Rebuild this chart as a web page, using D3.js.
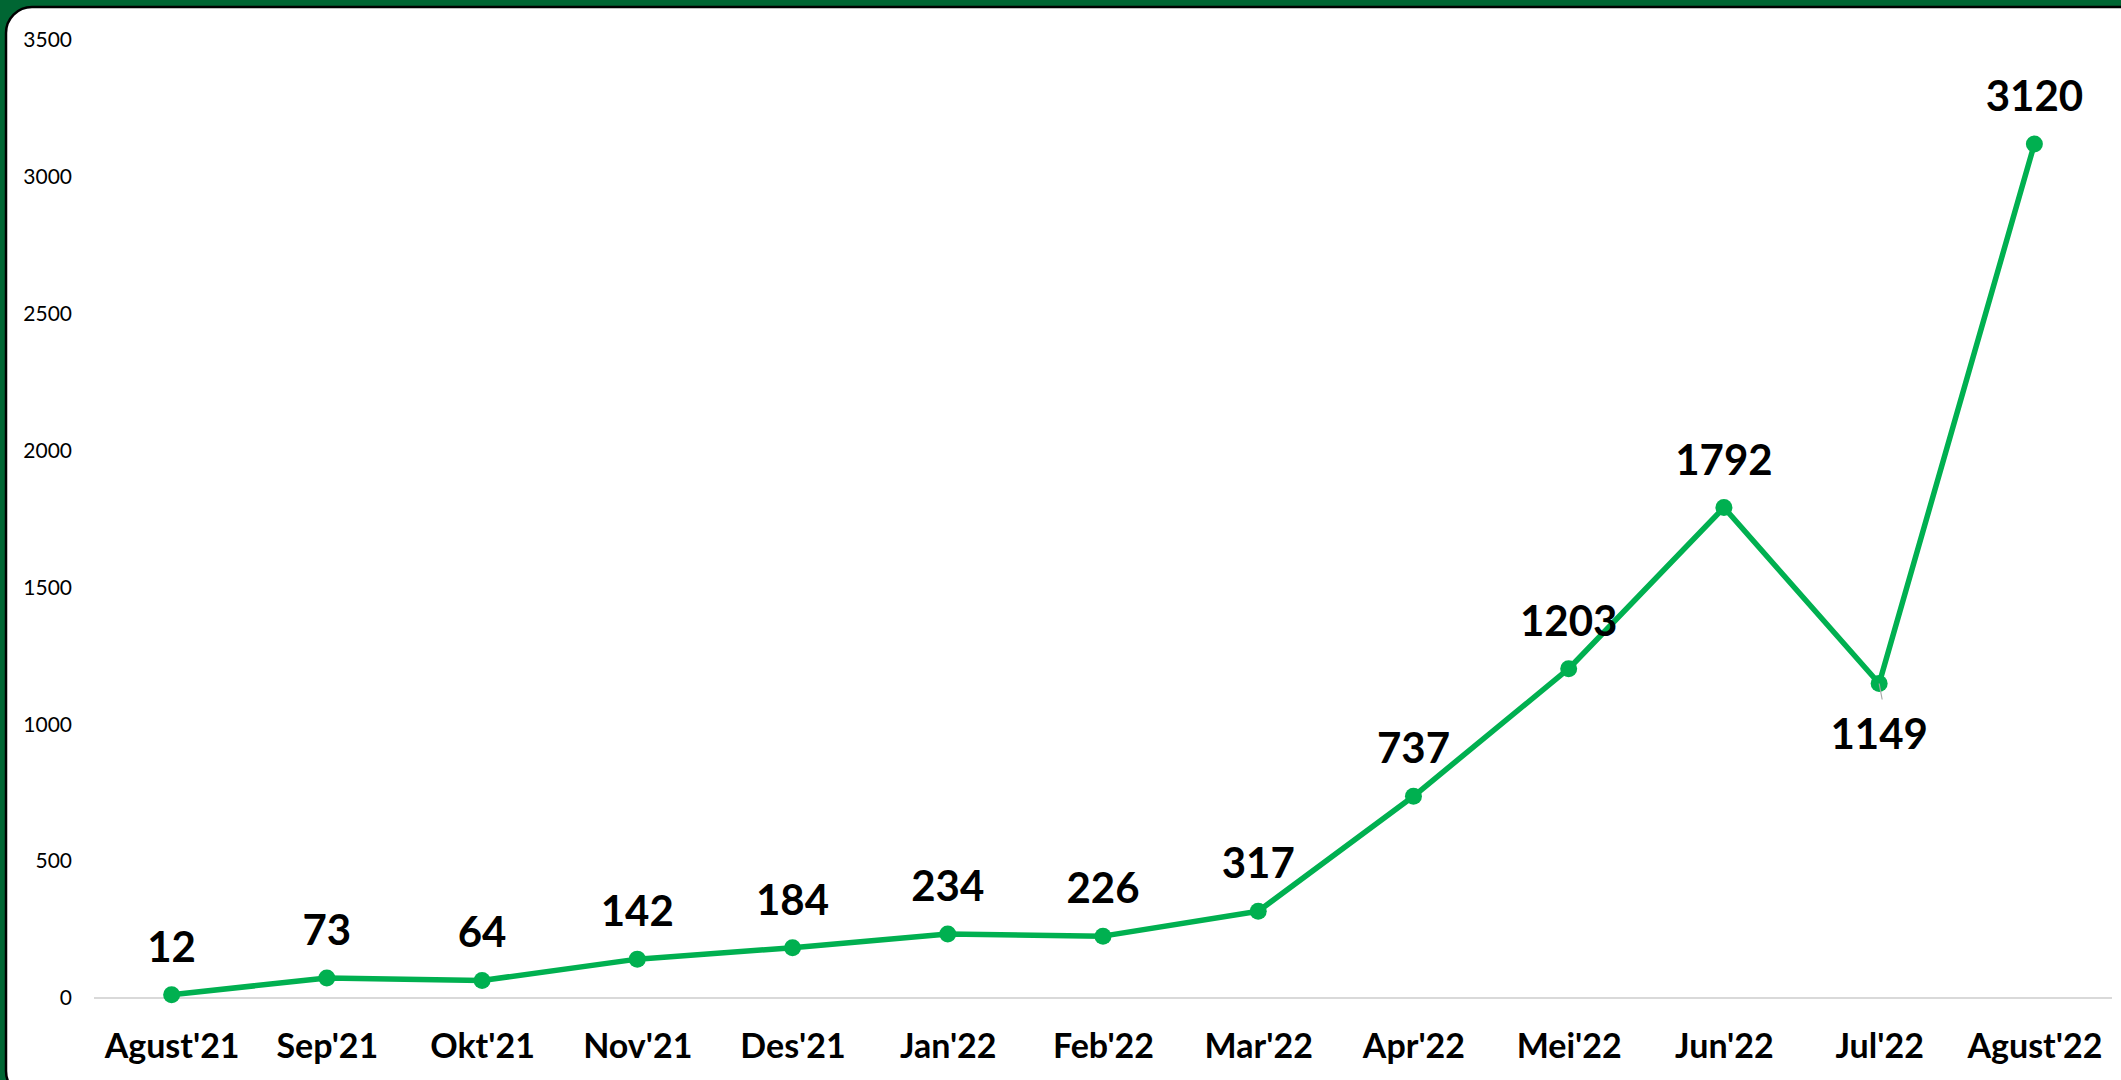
<!DOCTYPE html>
<html>
<head>
<meta charset="utf-8">
<script src="https://cdn.jsdelivr.net/npm/d3@7"></script>
<style>
  body { margin: 0; background: #006633; overflow: hidden; }
  text { font-family: Lato, "Noto Sans", sans-serif; }
</style>
</head>
<body>
<div id="chart"></div>
<script>
// data
var months = ["Agust'21", "Sep'21", "Okt'21", "Nov'21", "Des'21", "Jan'22", "Feb'22",
    "Mar'22", "Apr'22", "Mei'22", "Jun'22", "Jul'22", "Agust'22"];
var counts = [12, 73, 64, 142, 184, 234, 226, 317, 737, 1203, 1792, 1149, 3120];
var yTicks = [0, 500, 1000, 1500, 2000, 2500, 3000, 3500];
var labelBelow = ["Jul'22"];

var W = 2121, H = 1080;

var svg = d3.select("#chart")
    .append("svg")
    .attr("width", W)
    .attr("height", H);

// green frame + white rounded panel
svg.append("rect")
    .attr("width", W).attr("height", H)
    .attr("fill", "#006633");
svg.append("rect")
    .attr("x", 6).attr("y", 7)
    .attr("width", W + 40).attr("height", H + 10)
    .attr("rx", 26).attr("ry", 26)
    .attr("fill", "#fff")
    .attr("stroke", "#000")
    .attr("stroke-width", 2.5);

var data = months.map(function (m, i) { return { month: m, value: counts[i] }; });

/*********************
 * SCALES
 *********************/
var x = d3.scalePoint()
    .domain(months)
    .range([94, 2112])
    .padding(0.5);

var y = d3.scaleLinear()
    .domain([0, 3500])
    .range([998, 40]);

/*********************
 * Y AXIS (labels only)
 *********************/
var yAxis = svg.append("g")
    .attr("transform", "translate(72,0)")
    .call(d3.axisLeft(y).tickValues(yTicks).tickFormat(d3.format("d")).tickSize(0).tickPadding(0));
yAxis.select(".domain").remove();
yAxis.selectAll("text")
    .attr("font-size", 21)
    .attr("font-family", "Lato, 'Noto Sans', sans-serif")
    .attr("fill", "#000");

// baseline at zero
svg.append("line")
    .attr("x1", 94).attr("x2", 2112)
    .attr("y1", y(0)).attr("y2", y(0))
    .attr("stroke", "#d9d9d9")
    .attr("stroke-width", 2);

/*********************
 * X AXIS (labels only)
 *********************/
var xAxis = svg.append("g")
    .attr("transform", "translate(0,1034)")
    .call(d3.axisBottom(x).tickSize(0).tickPadding(0));
xAxis.select(".domain").remove();
xAxis.selectAll("text")
    .attr("font-size", 34)
    .attr("font-weight", "bold")
    .attr("font-family", "Lato, 'Noto Sans', sans-serif")
    .attr("fill", "#000");

/*********************
 * LINE + MARKERS
 *********************/
var line = d3.line()
    .x(function (d) { return x(d.month); })
    .y(function (d) { return y(d.value); });

svg.append("path")
    .datum(data)
    .attr("d", line)
    .attr("fill", "none")
    .attr("stroke", "#00B050")
    .attr("stroke-width", 5.5)
    .attr("stroke-linejoin", "round");

svg.selectAll("circle.dot")
    .data(data)
    .enter()
    .append("circle")
    .attr("class", "dot")
    .attr("cx", function (d) { return x(d.month); })
    .attr("cy", function (d) { return y(d.value); })
    .attr("r", 8.5)
    .attr("fill", "#00B050");

// small leader line for the label placed below
svg.selectAll("line.leader")
    .data(data.filter(function (d) { return labelBelow.indexOf(d.month) >= 0; }))
    .enter()
    .append("line")
    .attr("class", "leader")
    .attr("x1", function (d) { return x(d.month); })
    .attr("x2", function (d) { return x(d.month) + 3; })
    .attr("y1", function (d) { return y(d.value); })
    .attr("y2", function (d) { return y(d.value) + 16; })
    .attr("stroke", "#a6a6a6")
    .attr("stroke-width", 1.2);

/*********************
 * DATA LABELS
 *********************/
svg.selectAll("text.lbl")
    .data(data)
    .enter()
    .append("text")
    .attr("class", "lbl")
    .attr("x", function (d) { return x(d.month); })
    .attr("y", function (d) {
        return labelBelow.indexOf(d.month) >= 0 ? y(d.value) + 65 : y(d.value) - 33;
    })
    .attr("text-anchor", "middle")
    .attr("font-size", 42)
    .attr("font-weight", "bold")
    .attr("fill", "#000")
    .text(function (d) { return d.value; });
</script>
</body>
</html>
